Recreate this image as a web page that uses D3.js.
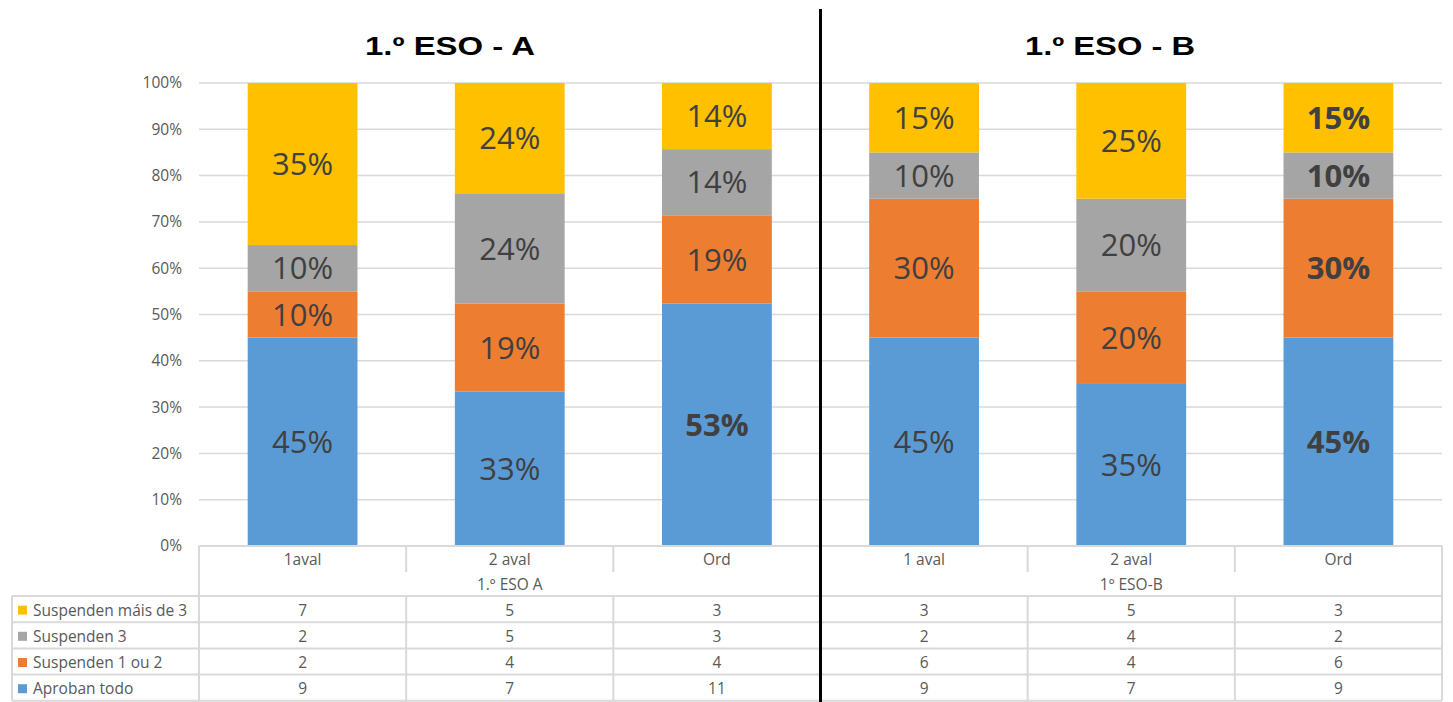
<!DOCTYPE html>
<html><head><meta charset="utf-8">
<script src="https://cdn.jsdelivr.net/npm/d3@7"></script>
<style>
html,body{margin:0;padding:0;background:#fff;}
text{font-family:"Open Sans","Noto Sans",sans-serif;}
</style></head>
<body><svg id="chart" width="1453" height="702"></svg>
<script>
// ---- data ----
const groups = ["1.º ESO A", "1º ESO-B"];
const titles = ["1.º ESO - A", "1.º ESO - B"];
const categories = ["1aval", "2 aval", "Ord", "1 aval", "2 aval", "Ord"];
const categoryGroup = [0, 0, 0, 1, 1, 1];
const seriesNames = ["Aproban todo", "Suspenden 1 ou 2", "Suspenden 3", "Suspenden máis de 3"];
const seriesColors = ["#5B9BD5", "#ED7D31", "#A5A5A5", "#FFC000"];
// counts (data table) – bars are these counts as share of 100%
const nAprobanTodo = [9, 7, 11, 9, 7, 9];
const nSusp12 = [2, 4, 4, 6, 4, 6];
const nSusp3 = [2, 5, 3, 2, 4, 2];
const nSuspMais3 = [7, 5, 3, 3, 5, 3];
// percentage labels as printed on the bars
const pctAprobanTodo = [45, 33, 53, 45, 35, 45];
const pctSusp12 = [10, 19, 19, 30, 20, 30];
const pctSusp3 = [10, 24, 14, 10, 20, 10];
const pctSuspMais3 = [35, 24, 14, 15, 25, 15];
// bold labels (series index -> category indices)
const boldLabels = [[2, 5], [5], [5], [5]];
const yTicks = [0, 0.1, 0.2, 0.3, 0.4, 0.5, 0.6, 0.7, 0.8, 0.9, 1];

const pctSeries = [pctAprobanTodo, pctSusp12, pctSusp3, pctSuspMais3];
const countSeries = [nAprobanTodo, nSusp12, nSusp3, nSuspMais3];

// ---- layout ----
const svg = d3.select("#chart");
const plotL = 199, plotR = 1442, plotT = 83, plotB = 546;
const keys = categories.map((c, i) => i);
const x = d3.scaleBand().domain(keys).range([plotL, plotR]).paddingInner(0.47).paddingOuter(0.235);
const y = d3.scaleLinear().domain([0, 1]).range([plotB, plotT]);
const gridCol = "#d9d9d9";

// gridlines
svg.append("g").selectAll("line").data(yTicks).join("line")
  .attr("x1", plotL).attr("x2", plotR)
  .attr("y1", d => y(d)).attr("y2", d => y(d))
  .attr("stroke", gridCol).attr("stroke-width", 1.5);

// y axis labels
svg.append("g").selectAll("text").data(yTicks).join("text")
  .attr("x", 182).attr("y", d => y(d)).attr("dy", "0.35em")
  .attr("text-anchor", "end").attr("font-size", 15.5).attr("fill", "#595959")
  .text(d3.format(".0%"));

// stacked bars (100% stacked from counts)
const rows = keys.map(i => {
  const o = {key: i};
  seriesNames.forEach((s, j) => o[s] = countSeries[j][i]);
  return o;
});
const stacked = d3.stack().keys(seriesNames).offset(d3.stackOffsetExpand)(rows);
const barG = svg.append("g");
stacked.forEach((layer, j) => {
  barG.append("g").attr("fill", seriesColors[j]).selectAll("rect").data(layer).join("rect")
    .attr("x", d => x(d.data.key)).attr("width", x.bandwidth())
    .attr("y", d => y(d[1])).attr("height", d => y(d[0]) - y(d[1]));
});
stacked.forEach((layer, j) => {
  barG.append("g").selectAll("text").data(layer).join("text")
    .attr("x", d => x(d.data.key) + x.bandwidth() / 2)
    .attr("y", d => (y(d[0]) + y(d[1])) / 2).attr("dy", "0.36em")
    .attr("text-anchor", "middle").attr("font-size", 31).attr("fill", "#404040")
    .attr("font-weight", d => boldLabels[j].includes(d.data.key) ? 700 : 400)
    .text(d => pctSeries[j][d.data.key] + "%");
});

// titles
const groupCenters = groups.map((g, gi) => {
  const idx = keys.filter(i => categoryGroup[i] === gi);
  return (x(idx[0]) + x(idx[idx.length - 1]) + x.bandwidth()) / 2;
});
const titleCenters = [450, 1110];
svg.append("g").selectAll("text").data(titles).join("text")
  .attr("x", (d, i) => titleCenters[i])
  .attr("y", 55).attr("text-anchor", "middle")
  .style("font-family", "'Liberation Sans',Arial,sans-serif")
  .attr("font-size", 25).attr("font-weight", 700).attr("fill", "#000")
  .attr("textLength", 170).attr("lengthAdjust", "spacingAndGlyphs")
  .text(d => d);

// ---- data table ----
const tG = svg.append("g");
const tableL = 12;
const catRowT = plotB, catRowB = 572, grpRowB = 596;
const rowH = 26.2;
const rowTops = seriesNames.map((s, k) => grpRowB + k * rowH);
const tableB = grpRowB + 4 * rowH;
const step = x.step();
const bounds = [plotL].concat(keys.slice(1).map(i => x(i) - (step - x.bandwidth()) / 2)).concat([plotR]);
const tLine = (x1, y1, x2, y2) => tG.append("line").attr("x1", x1).attr("y1", y1).attr("x2", x2).attr("y2", y2)
  .attr("stroke", gridCol).attr("stroke-width", 2);
tLine(plotL, catRowT, plotR, catRowT);
[grpRowB].concat(rowTops.slice(1)).concat([tableB]).forEach(yy => tLine(tableL, yy, plotR, yy));
bounds.forEach((bx, bi) => {
  const isOuter = bi === 0 || bi === bounds.length - 1 || bi === 3;
  if (isOuter) tLine(bx, catRowT, bx, tableB);
  else { tLine(bx, catRowT, bx, catRowB); tLine(bx, grpRowB, bx, tableB); }
});
tLine(tableL, grpRowB, tableL, tableB);

const tFont = 15.5;
const tCol = "#595959";
tG.selectAll("text.cat").data(keys).join("text").attr("class", "cat")
  .attr("x", i => x(i) + x.bandwidth() / 2).attr("y", (catRowT + catRowB) / 2 + 1).attr("dy", "0.35em")
  .attr("text-anchor", "middle").attr("font-size", tFont).attr("fill", tCol)
  .text(i => categories[i]);
tG.selectAll("text.grp").data(groups).join("text").attr("class", "grp")
  .attr("x", (d, i) => groupCenters[i]).attr("y", (catRowB + grpRowB) / 2 + 1).attr("dy", "0.35em")
  .attr("text-anchor", "middle").attr("font-size", tFont).attr("fill", tCol)
  .text(d => d);
const rowOrder = [3, 2, 1, 0];
rowOrder.forEach((j, k) => {
  const cy = rowTops[k] + rowH / 2 + 1;
  tG.append("rect").attr("x", 18).attr("y", cy - 4.5).attr("width", 9).attr("height", 9).attr("fill", seriesColors[j]);
  tG.append("text").attr("x", 33).attr("y", cy).attr("dy", "0.35em")
    .attr("font-size", tFont).attr("fill", tCol).text(seriesNames[j]);
  tG.append("g").selectAll("text").data(keys).join("text")
    .attr("x", i => x(i) + x.bandwidth() / 2).attr("y", cy).attr("dy", "0.35em")
    .attr("text-anchor", "middle").attr("font-size", tFont).attr("fill", tCol)
    .text(i => countSeries[j][i]);
});

// black divider
svg.append("line").attr("x1", bounds[3]).attr("x2", bounds[3]).attr("y1", 9).attr("y2", 702)
  .attr("stroke", "#000").attr("stroke-width", 3);
</script></body></html>
